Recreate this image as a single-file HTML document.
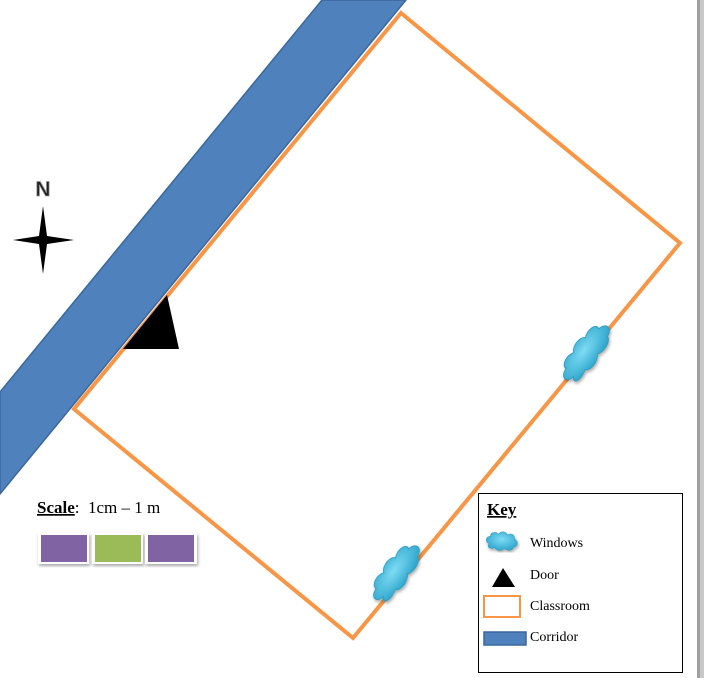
<!DOCTYPE html>
<html><head><style>
body{margin:0;width:704px;height:678px;background:#fff;overflow:hidden;position:relative;font-family:"Liberation Serif",serif;}
</style></head><body>
<svg width="704" height="678" style="position:absolute;left:0;top:0">
<defs>
<radialGradient id="cl" cx="50%" cy="40%" r="60%"><stop offset="0" stop-color="#7fdcf5"/><stop offset="1" stop-color="#2fa6cc"/></radialGradient>
<filter id="sh"><feDropShadow dx="1" dy="2" stdDeviation="1.5" flood-opacity="0.35"/></filter>
<g id="cloud"><path d="M-22,4 C-30,2 -28,-8 -20,-7 C-20,-14 -10,-15 -6,-10 C-3,-16 8,-15 9,-9 C15,-13 24,-9 21,-3 C29,-1 28,9 20,9 C19,15 8,16 4,11 C0,16 -10,16 -12,10 C-20,13 -28,9 -22,4Z" fill="url(#cl)" stroke="#2a9ac0" stroke-width="0.8"/></g>
</defs>
<rect x="697" y="0" width="7" height="678" fill="#c8c8c8"/>
<rect x="697" y="0" width="3" height="678" fill="#a0a0a0"/>
<polygon points="322,0 406,0 0,494 0,392" fill="#4f81bd" stroke="#3a679c" stroke-width="1.5"/>
<polygon points="401,13 680,243 353,638 74,409" fill="none" stroke="#f79646" stroke-width="4"/>
<polygon points="123,349 179,349 167,295" fill="#000"/>
<g filter="url(#sh)">
<use href="#cloud" transform="translate(586,352) rotate(-55) scale(1.25,0.95)"/>
<use href="#cloud" transform="translate(396,572) rotate(-55) scale(1.25,0.95)"/>
</g>
<text x="43" y="196" text-anchor="middle" font-family="Liberation Sans" font-weight="bold" font-size="21" fill="#222" stroke="#999" stroke-width="0.8">N</text>
<polygon points="43,206 47,236 74,240 47,244 43,274 39,244 13,240 39,236" fill="#000"/>
<g filter="url(#sh)">
<rect x="38" y="533" width="51" height="31" fill="#fff"/><rect x="41" y="535" width="46" height="27" fill="#8064a2"/>
<rect x="92" y="533" width="51" height="31" fill="#fff"/><rect x="95" y="535" width="46" height="27" fill="#9bbb59"/>
<rect x="145" y="533" width="52" height="31" fill="#fff"/><rect x="148" y="535" width="46" height="27" fill="#8064a2"/>
</g>
<text x="37" y="513" font-size="17" xml:space="preserve"><tspan font-weight="bold" text-decoration="underline">Scale</tspan>:  1cm – 1 m</text>
<rect x="478.5" y="493.5" width="204" height="179" fill="#fff" stroke="#000" stroke-width="1"/>
<text x="487" y="515" font-size="17" font-weight="bold" text-decoration="underline">Key</text>
<g filter="url(#sh)"><use href="#cloud" transform="translate(502,541) scale(0.58,0.65)"/></g>
<text x="530" y="547" font-size="14">Windows</text>
<polygon points="492,587 515,587 503,568" fill="#000"/>
<text x="530" y="579" font-size="14">Door</text>
<rect x="484" y="596" width="36" height="21" fill="#fff" stroke="#f79646" stroke-width="2"/>
<text x="530" y="610" font-size="14">Classroom</text>
<rect x="484" y="632" width="42" height="13" fill="#4f81bd" stroke="#3a679c" stroke-width="1.5"/>
<text x="530" y="641" font-size="14">Corridor</text>
</svg>
</body></html>
